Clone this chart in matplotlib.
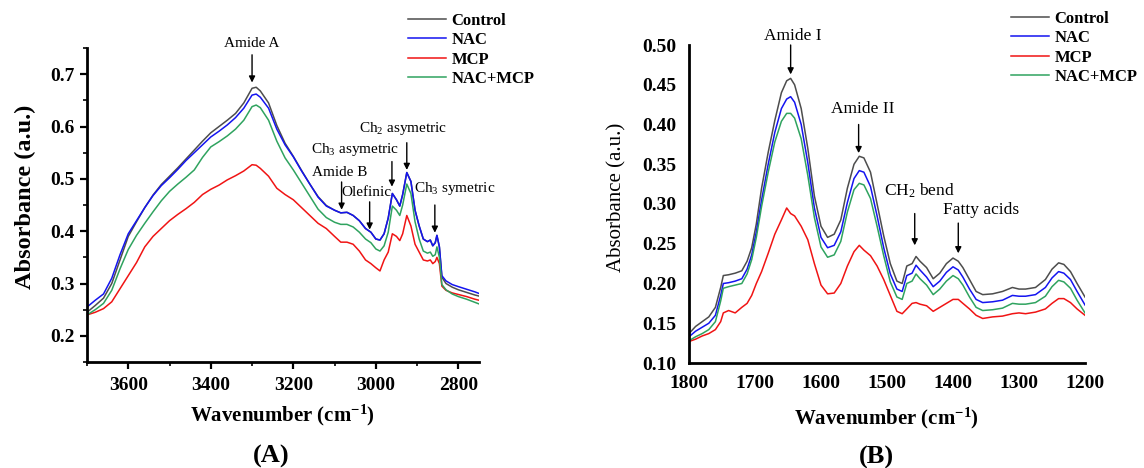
import matplotlib
matplotlib.use("Agg")
import matplotlib.pyplot as plt
from matplotlib.ticker import MultipleLocator

plt.rcParams['font.family'] = ['Liberation Serif', 'DejaVu Serif']
plt.rcParams['mathtext.fontset'] = 'custom'
plt.rcParams['mathtext.rm'] = 'Liberation Serif'
plt.rcParams['mathtext.it'] = 'Liberation Serif:italic'
plt.rcParams['mathtext.bf'] = 'Liberation Serif:bold'

# ---------------- data, panel A (3700-2750 cm-1) ----------------
wn_a = [3700, 3680, 3660, 3640, 3620, 3600, 3580, 3560, 3540, 3520, 3500, 3480,
        3460, 3440, 3420, 3400, 3380, 3360, 3340, 3320, 3300, 3290, 3280, 3260,
        3240, 3220, 3200, 3180, 3160, 3140, 3120, 3100, 3085, 3070, 3055, 3040,
        3025, 3012, 3000, 2990, 2980, 2970, 2960, 2950, 2942, 2935, 2925, 2915,
        2905, 2895, 2885, 2875, 2868, 2862, 2856, 2852, 2846, 2840, 2830, 2815,
        2800, 2780, 2760, 2750]
control_a = [0.245, 0.258, 0.272, 0.300, 0.345, 0.390, 0.418, 0.445, 0.469, 0.489, 0.505, 0.521,
             0.538, 0.555, 0.572, 0.588, 0.600, 0.612, 0.625, 0.645, 0.673, 0.675, 0.668, 0.645,
             0.602, 0.568, 0.543, 0.516, 0.490, 0.466, 0.449, 0.440, 0.435, 0.436, 0.430, 0.420,
             0.405, 0.398, 0.385, 0.383, 0.395, 0.425, 0.472, 0.460, 0.448, 0.470, 0.512, 0.495,
             0.440, 0.410, 0.385, 0.380, 0.383, 0.372, 0.378, 0.392, 0.370, 0.312, 0.300, 0.293,
             0.288, 0.283, 0.278, 0.276]
nac_a = [0.255, 0.268, 0.280, 0.310, 0.355, 0.395, 0.420, 0.445, 0.468, 0.487, 0.502, 0.518,
         0.535, 0.550, 0.565, 0.580, 0.591, 0.603, 0.617, 0.635, 0.660, 0.662, 0.656, 0.635,
         0.595, 0.565, 0.542, 0.515, 0.490, 0.465, 0.448, 0.440, 0.435, 0.436, 0.430, 0.420,
         0.405, 0.398, 0.385, 0.383, 0.395, 0.425, 0.472, 0.460, 0.448, 0.470, 0.512, 0.495,
         0.440, 0.410, 0.385, 0.380, 0.383, 0.372, 0.378, 0.392, 0.370, 0.315, 0.305, 0.298,
         0.294, 0.289, 0.284, 0.281]
mcp_a = [0.240, 0.245, 0.252, 0.265, 0.290, 0.315, 0.340, 0.370, 0.390, 0.405, 0.420, 0.432,
         0.443, 0.455, 0.470, 0.480, 0.488, 0.498, 0.506, 0.515, 0.527, 0.526, 0.520, 0.505,
         0.482, 0.470, 0.460, 0.445, 0.430, 0.415, 0.405, 0.390, 0.379, 0.379, 0.375, 0.362,
         0.345, 0.338, 0.330, 0.324, 0.345, 0.360, 0.395, 0.390, 0.382, 0.395, 0.430, 0.410,
         0.375, 0.360, 0.345, 0.343, 0.345, 0.338, 0.342, 0.350, 0.338, 0.295, 0.287, 0.282,
         0.279, 0.275, 0.270, 0.268]
nacmcp_a = [0.240, 0.250, 0.262, 0.287, 0.328, 0.365, 0.392, 0.415, 0.437, 0.458, 0.476, 0.490,
            0.503, 0.517, 0.541, 0.561, 0.571, 0.582, 0.595, 0.612, 0.638, 0.641, 0.636, 0.612,
            0.572, 0.540, 0.517, 0.492, 0.467, 0.442, 0.426, 0.417, 0.413, 0.413, 0.408, 0.398,
            0.385, 0.378, 0.366, 0.362, 0.372, 0.398, 0.448, 0.440, 0.430, 0.450, 0.490, 0.472,
            0.418, 0.385, 0.362, 0.358, 0.360, 0.352, 0.355, 0.370, 0.350, 0.298, 0.288, 0.280,
            0.275, 0.270, 0.264, 0.261]

# ---------------- data, panel B (1800-1200 cm-1) ----------------
wn_b = [1800, 1790, 1780, 1770, 1760, 1752, 1748, 1740, 1730, 1720, 1712, 1705,
        1698, 1690, 1680, 1670, 1660, 1652, 1646, 1640, 1630, 1620, 1610, 1600,
        1590, 1580, 1570, 1560, 1550, 1542, 1535, 1525, 1515, 1505, 1495, 1485,
        1477, 1470, 1462, 1456, 1450, 1440, 1430, 1420, 1410, 1400, 1392, 1385,
        1375, 1365, 1355, 1340, 1325, 1310, 1300, 1290, 1275, 1260, 1250, 1240,
        1232, 1222, 1212, 1200]
control_b = [0.137, 0.146, 0.152, 0.158, 0.170, 0.195, 0.210, 0.211, 0.213, 0.216, 0.228, 0.245,
             0.275, 0.320, 0.365, 0.405, 0.440, 0.455, 0.458, 0.450, 0.420, 0.370, 0.310, 0.272,
             0.258, 0.262, 0.280, 0.320, 0.350, 0.360, 0.358, 0.340, 0.300, 0.260, 0.225, 0.203,
             0.200, 0.222, 0.225, 0.234, 0.228, 0.220, 0.206, 0.213, 0.225, 0.232, 0.228, 0.220,
             0.205, 0.190, 0.186, 0.187, 0.190, 0.195, 0.193, 0.193, 0.195, 0.205, 0.218, 0.226,
             0.224, 0.215, 0.200, 0.183]
nac_b = [0.133, 0.140, 0.145, 0.150, 0.160, 0.185, 0.200, 0.201, 0.203, 0.206, 0.218, 0.236,
         0.265, 0.305, 0.350, 0.390, 0.420, 0.432, 0.435, 0.428, 0.400, 0.352, 0.295, 0.258,
         0.245, 0.248, 0.265, 0.302, 0.332, 0.342, 0.340, 0.322, 0.285, 0.245, 0.212, 0.193,
         0.190, 0.210, 0.213, 0.223, 0.217, 0.208, 0.196, 0.203, 0.214, 0.221, 0.217, 0.208,
         0.193, 0.180, 0.176, 0.177, 0.179, 0.185, 0.184, 0.184, 0.186, 0.195, 0.207, 0.215,
         0.213, 0.205, 0.190, 0.173]
mcp_b = [0.127, 0.130, 0.134, 0.137, 0.142, 0.152, 0.163, 0.166, 0.163, 0.170, 0.175, 0.185,
         0.200, 0.215, 0.238, 0.262, 0.280, 0.295, 0.288, 0.285, 0.272, 0.255, 0.225, 0.198,
         0.187, 0.188, 0.200, 0.222, 0.240, 0.248, 0.242, 0.235, 0.222, 0.205, 0.185, 0.165,
         0.162, 0.168, 0.175, 0.176, 0.174, 0.172, 0.165, 0.170, 0.175, 0.180, 0.180, 0.175,
         0.168, 0.160, 0.156, 0.158, 0.159, 0.162, 0.163, 0.162, 0.164, 0.168, 0.175, 0.181,
         0.181, 0.176, 0.168, 0.160]
nacmcp_b = [0.128, 0.133, 0.137, 0.142, 0.152, 0.178, 0.194, 0.196, 0.198, 0.200, 0.212, 0.230,
            0.258, 0.297, 0.340, 0.378, 0.404, 0.414, 0.414, 0.408, 0.382, 0.336, 0.283, 0.246,
            0.233, 0.236, 0.253, 0.290, 0.318, 0.326, 0.324, 0.307, 0.272, 0.235, 0.202, 0.183,
            0.180, 0.200, 0.203, 0.212, 0.206, 0.198, 0.186, 0.193, 0.203, 0.210, 0.206, 0.198,
            0.183, 0.170, 0.166, 0.167, 0.169, 0.175, 0.174, 0.174, 0.176, 0.184, 0.196, 0.204,
            0.202, 0.194, 0.179, 0.163]

labels = ['Control', 'NAC', 'MCP', 'NAC+MCP']
colors = ['#4d4d4d', '#1414f0', '#f01414', '#2fa35f']

# peak labels: (text, text x, text y, arrow x, arrow tail y, arrow head y)
peaks_a = [('Amide A', 3301, 0.758, 3300, 0.737, 0.684),
           ('Amide B', 3088, 0.512, 3083, 0.494, 0.441),
           ('Olefinic', 3024, 0.473, 3015, 0.456, 0.403),
           ('Ch$_3$ asymetric', 3049, 0.557, 2961, 0.533, 0.485),
           ('Ch$_2$ asymetric', 2934, 0.596, 2925, 0.569, 0.517),
           ('Ch$_3$ symetric', 2808, 0.481, 2857, 0.450, 0.397)]
peaks_b = [('Amide I', 1642, 0.511, 1646, 0.500, 0.463),
           ('Amide II', 1536, 0.419, 1543, 0.400, 0.364),
           ('CH$_2$ bend', 1451, 0.316, 1458, 0.288, 0.248),
           ('Fatty acids', 1358, 0.292, 1392, 0.276, 0.238)]

W, H = 1144, 468
fig = plt.figure(figsize=(W / 100, H / 100), dpi=100)

ax1 = fig.add_axes([87 / W, 1 - 362 / H, 392 / W, 314 / H])
ax2 = fig.add_axes([689 / W, 1 - 363 / H, 396 / W, 318 / H])

for ys, lab, c in zip([control_a, nac_a, mcp_a, nacmcp_a], labels, colors):
    ax1.plot(wn_a, ys, color=c, lw=1.1, label=lab)
for ys, lab, c in zip([control_b, nac_b, mcp_b, nacmcp_b], labels, colors):
    ax2.plot(wn_b, ys, color=c, lw=1.1, label=lab)

# panel A axes
ax1.set_xlim(3700, 2750)
ax1.set_ylim(0.15, 0.75)
ax1.xaxis.set_major_locator(MultipleLocator(200))
ax1.xaxis.set_minor_locator(MultipleLocator(100))
ax1.yaxis.set_major_locator(MultipleLocator(0.1))
ax1.yaxis.set_minor_locator(MultipleLocator(0.05))
ax1.set_yticks([0.2, 0.3, 0.4, 0.5, 0.6, 0.7])
ax1.set_yticklabels(['0.2', '0.3', '0.4', '0.5', '0.6', '0.7'])
ax1.tick_params(which='major', direction='out', length=5, width=1.6, labelsize=14, pad=4)
ax1.tick_params(which='minor', direction='out', length=3, width=1.2)
ax1.tick_params(axis='x', pad=6)
for s in ['top', 'right']:
    ax1.spines[s].set_visible(False)
for s in ['left', 'bottom']:
    ax1.spines[s].set_linewidth(2)
for t in ax1.get_xticklabels() + ax1.get_yticklabels():
    t.set_fontweight('bold')

# panel B axes
ax2.set_xlim(1800, 1200)
ax2.set_ylim(0.10, 0.50)
ax2.xaxis.set_major_locator(MultipleLocator(100))
ax2.yaxis.set_major_locator(MultipleLocator(0.05))
ax2.yaxis.set_major_formatter(plt.FormatStrFormatter('%.2f'))
ax2.tick_params(length=0, labelsize=14)
ax2.tick_params(axis='y', pad=9)
ax2.tick_params(axis='x', pad=9)
for s in ['top', 'right']:
    ax2.spines[s].set_visible(False)
for s in ['left', 'bottom']:
    ax2.spines[s].set_linewidth(2)
for t in ax2.get_xticklabels() + ax2.get_yticklabels():
    t.set_fontweight('bold')

# peak arrows and labels
for ax, peaks, fs in [(ax1, peaks_a, 11), (ax2, peaks_b, 12.5)]:
    for txt, tx, ty, axx, y0, y1 in peaks:
        ax.text(tx, ty, txt, ha='center', va='center', fontsize=fs, clip_on=False)
        ax.annotate('', xy=(axx, y1), xytext=(axx, y0), annotation_clip=False,
                    arrowprops=dict(arrowstyle='-|>', color='k', lw=1.0, mutation_scale=9,
                                    shrinkA=0, shrinkB=0))

# legends
fig.legend(*ax1.get_legend_handles_labels(), loc='upper left', bbox_to_anchor=(408 / W, 1 - 13 / H),
           frameon=False, fontsize=12, prop={'weight': 'bold', 'size': 12}, handlelength=2.3,
           handletextpad=0.3, labelspacing=0.2, borderpad=0, borderaxespad=0)
fig.legend(*ax2.get_legend_handles_labels(), loc='upper left', bbox_to_anchor=(1011 / W, 1 - 11 / H),
           frameon=False, prop={'weight': 'bold', 'size': 12}, handlelength=2.3,
           handletextpad=0.3, labelspacing=0.2, borderpad=0, borderaxespad=0)

# axis titles
fig.text(25 / W, 1 - 197 / H, 'Absorbance (a.u.)', rotation=90, ha='center', va='center',
         fontsize=17.5, fontweight='bold')
fig.text(617 / W, 1 - 197 / H, 'Absorbance (a.u.)', rotation=90, ha='center', va='center',
         fontsize=15)
fig.text(282 / W, 1 - 415 / H, r'Wavenumber (cm$^{\mathbf{-1}}$)', ha='center', va='center',
         fontsize=15, fontweight='bold')
fig.text(886 / W, 1 - 418 / H, r'Wavenumber (cm$^{\mathbf{-1}}$)', ha='center', va='center',
         fontsize=15, fontweight='bold')
fig.text(271 / W, 1 - 456 / H, '(A)', ha='center', va='center', fontsize=19, fontweight='bold')
fig.text(876 / W, 1 - 457 / H, '(B)', ha='center', va='center', fontsize=19, fontweight='bold')

fig.savefig('out.png', dpi=100)
